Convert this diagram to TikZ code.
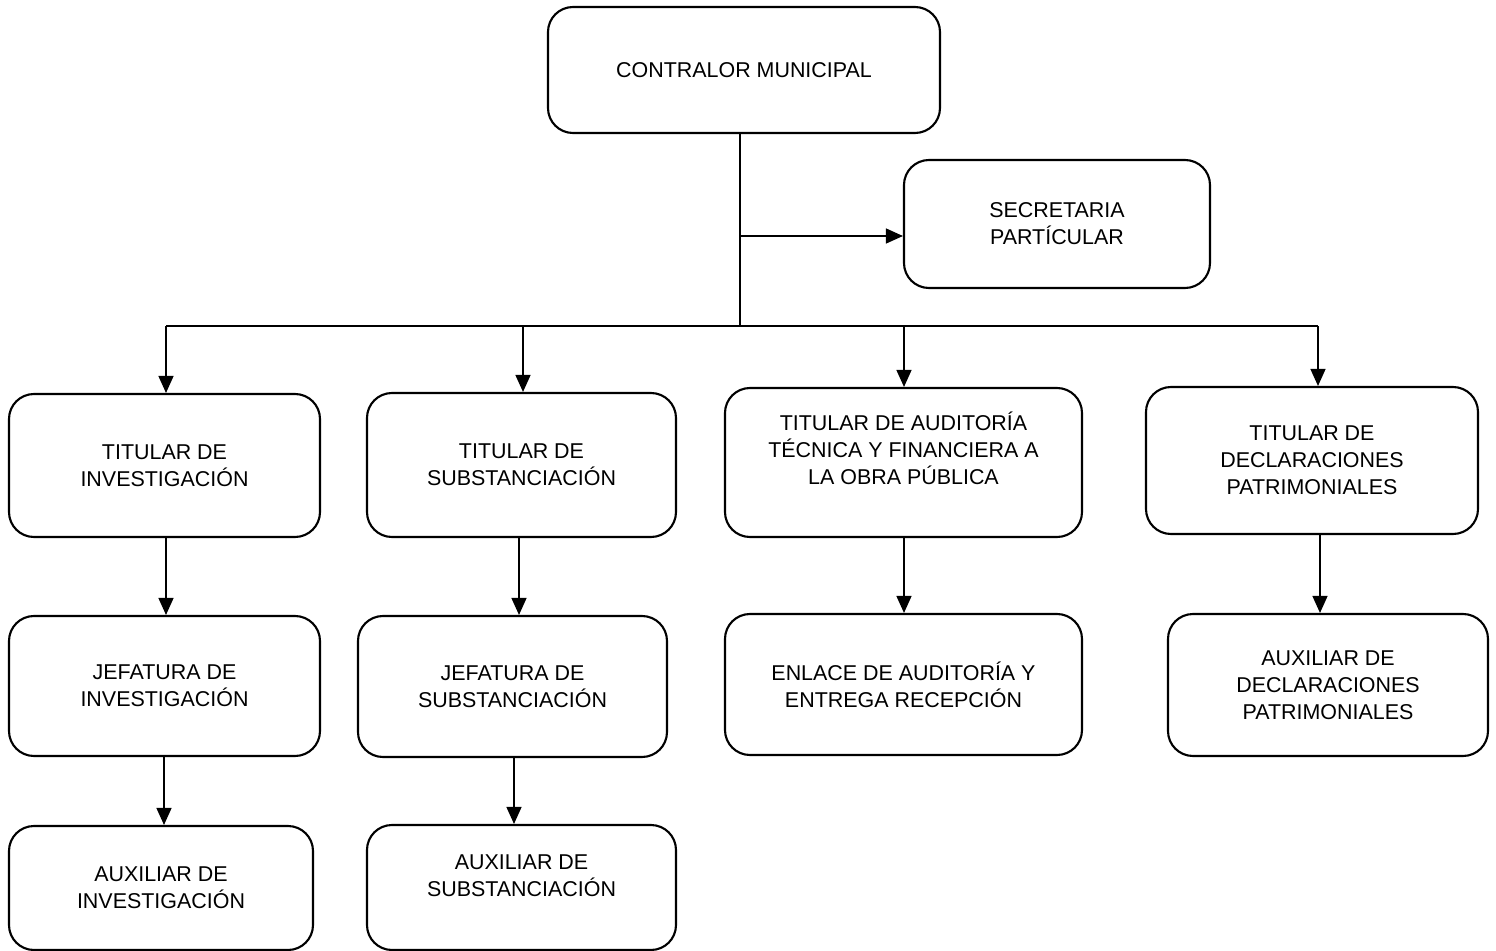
\documentclass[tikz,border=0pt]{standalone}
\usepackage{fontspec}
\setmainfont{Liberation Sans}
\usepackage{tikz}
\usetikzlibrary{
    arrows.meta,
    positioning,
    calc
}

\begin{document}
\begin{tikzpicture}[
    unidad/.style={
        rectangle,
        draw,
        line width=1.2pt,
        rounded corners=0.5cm,
        align=center,
        inner sep=2pt,
        font=\fontsize{12.2}{15.4}\selectfont
    },
    flecha/.style={line width=0.8pt, -{Triangle[length=0.34cm, width=0.30cm]}},
    linea/.style={line width=0.8pt}
]

\useasboundingbox (0,0) rectangle (29.92,-19.02);

% ============================================================
% NODOS
% ============================================================

% Titular
\node[unidad, minimum width=7.84cm, minimum height=2.52cm] (contralor) at (14.88, -1.40) {CONTRALOR MUNICIPAL};
\node[unidad, minimum width=6.12cm, minimum height=2.56cm] (secretaria) at (21.14, -4.48) {SECRETARIA\\PARTÍCULAR};

% Titulares de area
\node[unidad, minimum width=6.22cm, minimum height=2.86cm] (tinv) at (3.29, -9.31) {TITULAR DE\\INVESTIGACIÓN};
\node[unidad, minimum width=6.18cm, minimum height=2.88cm] (tsub) at (10.43, -9.30) {TITULAR DE\\SUBSTANCIACIÓN};
\node[unidad, minimum width=7.14cm, minimum height=2.98cm,
      label={[font=\fontsize{12.2}{15.4}\selectfont, align=center, yshift=0.28cm]center:TITULAR DE AUDITORÍA\\TÉCNICA Y FINANCIERA A\\LA OBRA PÚBLICA}] (taud) at (18.07, -9.25) {};
\node[unidad, minimum width=6.64cm, minimum height=2.94cm] (tdec) at (26.24, -9.21) {TITULAR DE\\DECLARACIONES\\PATRIMONIALES};

% Jefaturas y enlaces
\node[unidad, minimum width=6.22cm, minimum height=2.80cm] (jinv) at (3.29, -13.72) {JEFATURA DE\\INVESTIGACIÓN};
\node[unidad, minimum width=6.18cm, minimum height=2.82cm] (jsub) at (10.25, -13.73) {JEFATURA DE\\SUBSTANCIACIÓN};
\node[unidad, minimum width=7.14cm, minimum height=2.82cm] (enlace) at (18.07, -13.69) {ENLACE DE AUDITORÍA Y\\ENTREGA RECEPCIÓN};
\node[unidad, minimum width=6.40cm, minimum height=2.84cm] (adec) at (26.56, -13.70) {AUXILIAR DE\\DECLARACIONES\\PATRIMONIALES};

% Auxiliares
\node[unidad, minimum width=6.08cm, minimum height=2.48cm] (ainv) at (3.22, -17.76) {AUXILIAR DE\\INVESTIGACIÓN};
\node[unidad, minimum width=6.18cm, minimum height=2.50cm,
      label={[font=\fontsize{12.2}{15.4}\selectfont, align=center, yshift=0.24cm]center:AUXILIAR DE\\SUBSTANCIACIÓN}] (asub) at (10.43, -17.75) {};

% ============================================================
% CONEXIONES
% ============================================================

% Tronco y barra
\coordinate (tronco) at (14.80, -6.52);
\coordinate (sec) at (14.80, -4.72);
\coordinate (barraizq) at (3.32, -6.52);
\coordinate (barrader) at (26.36, -6.52);
\draw[linea] (contralor.south -| tronco) -- (tronco);
\draw[linea] (barraizq) -- (barrader);
\draw[flecha] (sec) -- (sec -| secretaria.west);

% Barra -> titulares
\coordinate (bsub) at (10.46, -6.52);
\coordinate (baud) at (18.08, -6.52);
\draw[flecha] (barraizq) -- (barraizq |- tinv.north);
\draw[flecha] (bsub) -- (bsub |- tsub.north);
\draw[flecha] (baud) -- (baud |- taud.north);
\draw[flecha] (barrader) -- (barrader |- tdec.north);

% Titulares -> jefaturas
\coordinate (jsx) at (10.38, 0);
\coordinate (adx) at (26.40, 0);
\draw[flecha] (tinv.south -| barraizq) -- (barraizq |- jinv.north);
\draw[flecha] (tsub.south -| jsx) -- (jsx |- jsub.north);
\draw[flecha] (taud.south -| baud) -- (baud |- enlace.north);
\draw[flecha] (tdec.south -| adx) -- (adx |- adec.north);

% Jefaturas -> auxiliares
\coordinate (aix) at (3.28, 0);
\coordinate (asx) at (10.28, 0);
\draw[flecha] (jinv.south -| aix) -- (aix |- ainv.north);
\draw[flecha] (jsub.south -| asx) -- (asx |- asub.north);

\end{tikzpicture}
\end{document}
